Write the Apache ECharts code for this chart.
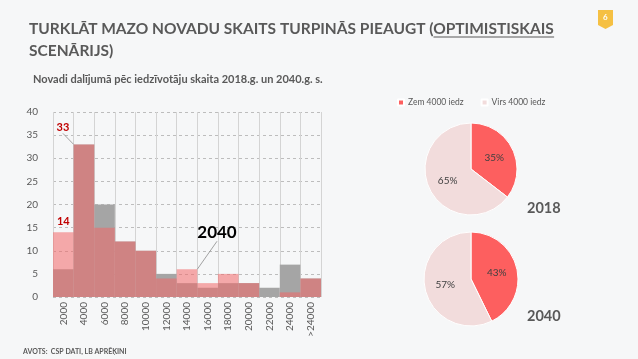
<!DOCTYPE html>
<html>
<head>
<meta charset="utf-8">
<script src="https://cdn.jsdelivr.net/npm/echarts@6/dist/echarts.min.js"></script>
<style>
html,body{margin:0;padding:0;background:#f6f7f8;}
#c{width:638px;height:359px;}
</style>
</head>
<body>
<div id="c"></div>
<script>
var categories = ['2000','4000','6000','8000','10000','12000','14000','16000','18000','20000','22000','24000','>24000'];
var values2018 = [6,33,20,12,10,5,3,2,3,3,2,7,4];
var values2040 = [14,33,15,12,10,4,6,3,5,3,0,1,4];
var yTicks = [0,5,10,15,20,25,30,35,40];
var pieNames = ['Zem 4000 iedz','Virs 4000 iedz'];
var smallCount = 2; // first two categories = under 4000 inhabitants

function pieData(arr){
  var small = 0, total = 0;
  for (var i=0;i<arr.length;i++){ total += arr[i]; if (i<smallCount) small += arr[i]; }
  return [{name:pieNames[0], value:small},{name:pieNames[1], value:total-small}];
}

var txt = '#595959';
var font = 'Lato, "Open Sans", sans-serif';

var titleLine1a = 'TURKLĀT MAZO NOVADU SKAITS TURPINĀS PIEAUGT (';
var titleLine1b = 'OPTIMISTISKAIS';
var titleSize = 15.5, titleLeft = 29, titleTop = 18;
var ctx = document.createElement('canvas').getContext('2d');
ctx.font = 'bold ' + titleSize + 'px ' + font;
var ulStart = titleLeft + ctx.measureText(titleLine1a).width;
var ulEnd = ulStart + ctx.measureText(titleLine1b).width;

var data2040 = values2040.map(function(v,i){
  var item = {value:v};
  if (i===0) item.label = {show:true, position:'top', color:'#c00000', fontWeight:'bold', fontSize:11, formatter:'{c}'};
  if (i===1) { item.label = {show:true, position:'top', color:'#c00000', fontWeight:'bold', fontSize:11, formatter:'{c}'};
               item.labelLine = {show:true, lineStyle:{color:'#8c8c8c', width:0.8}}; }
  if (i===6) { item.label = {show:true, position:'top', color:'#000', fontWeight:'bold', fontSize:17, formatter:'2040'};
               item.labelLine = {show:true, lineStyle:{color:'#8c8c8c', width:0.8}}; }
  return item;
});

var chart = echarts.init(document.getElementById('c'));
chart.setOption({
  backgroundColor:'#f6f7f8',
  animation:false,
  textStyle:{fontFamily:font},
  title:[
    {text:titleLine1a + titleLine1b + '\nSCENĀRIJS)', left:titleLeft, top:titleTop, padding:0,
     textStyle:{color:txt, fontSize:titleSize, fontWeight:'bold', lineHeight:22, fontFamily:font}},
    {text:'Novadi dalījumā pēc iedzīvotāju skaita 2018.g. un 2040.g. s.', left:33, top:74, padding:0,
     textStyle:{color:txt, fontSize:11, fontWeight:'bold', fontFamily:font}},
    {text:'2018', left:527, top:201, padding:0, textStyle:{color:txt, fontSize:14.5, fontWeight:'bold', fontFamily:font}},
    {text:'2040', left:527, top:309, padding:0, textStyle:{color:txt, fontSize:14.5, fontWeight:'bold', fontFamily:font}},
    {text:'AVOTS:  CSP DATI, LB APRĒĶINI', left:23, top:348, padding:0, textStyle:{color:txt, fontSize:7, fontWeight:'bold', fontFamily:font}}
  ],
  legend:{data:pieNames, left:397, top:98, padding:0, itemWidth:6, itemHeight:6, itemGap:17, icon:'rect',
          textStyle:{color:txt, fontSize:8.5, fontFamily:font, padding:[0,0,0,-1]}},
  grid:{left:53, right:317, top:112, bottom:62, containLabel:false},
  xAxis:{type:'category', data:categories, boundaryGap:true,
    axisLine:{show:false}, axisTick:{show:false},
    axisLabel:{rotate:90, color:txt, fontSize:10, margin:5, interval:0},
    splitLine:{show:true, interval:0, lineStyle:{color:'#d4d4d4', width:1}}},
  yAxis:{type:'value', min:yTicks[0], max:yTicks[yTicks.length-1], interval:yTicks[1]-yTicks[0],
    axisLine:{show:false}, axisTick:{show:false},
    axisLabel:{color:txt, fontSize:10, margin:15},
    splitLine:{lineStyle:{color:'#bdbdbd', type:[3,3], width:1}}},
  series:[
    {name:'2018', type:'bar', data:values2018, barGap:'-100%', barCategoryGap:0,
     itemStyle:{color:'#a5a5a5'}, z:2},
    {name:'2040', type:'bar', data:data2040, barGap:'-100%', barCategoryGap:0,
     itemStyle:{color:'rgba(242,104,104,0.55)'}, z:3,
     label:{show:false},
     labelLayout:function(p){
       if (p.dataIndex===1) return {dx:-21, dy:-6};
       if (p.dataIndex===6) return {dx:30, dy:-23};
       return {};
     }},
    {name:'pie2018', type:'pie', center:[471,169], radius:46, startAngle:90, clockwise:true,
     percentPrecision:0, data:pieData(values2018), color:['#fd5f5f','#f2dcdc'],
     itemStyle:{borderColor:'#ffffff', borderWidth:1},
     label:{show:true, position:'inside', formatter:'{d}%', color:'#404040', fontSize:10, fontFamily:font},
     labelLine:{show:false}, emphasis:{disabled:true}},
    {name:'pie2040', type:'pie', center:[471,279], radius:47, startAngle:90, clockwise:true,
     percentPrecision:0, data:pieData(values2040), color:['#fd5f5f','#f2dcdc'],
     itemStyle:{borderColor:'#ffffff', borderWidth:1},
     label:{show:true, position:'inside', formatter:'{d}%', color:'#404040', fontSize:10, fontFamily:font},
     labelLine:{show:false}, emphasis:{disabled:true}}
  ],
  graphic:[
    {type:'line', shape:{x1:ulStart, y1:titleTop+19, x2:ulEnd, y2:titleTop+19}, style:{stroke:txt, lineWidth:1}},
    {type:'polygon', shape:{points:[[598,10],[613,10],[613,25],[605.5,29],[598,25]]}, style:{fill:'#f5c043'}},
    {type:'text', left:603, top:13, style:{text:'6', fill:'#ffffff', fontSize:8, fontWeight:'bold', fontFamily:font}}
  ]
});
</script>
</body>
</html>
